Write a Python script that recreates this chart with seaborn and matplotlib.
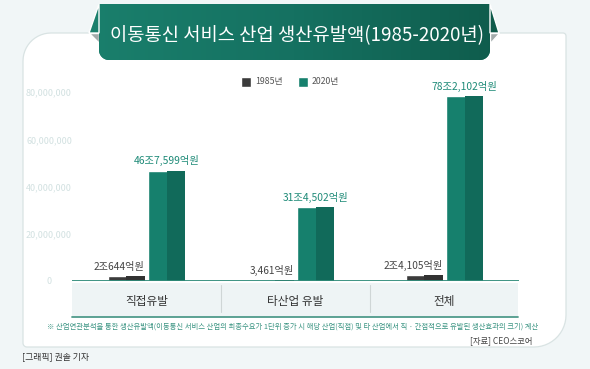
import numpy as np
import pandas as pd
import matplotlib
matplotlib.use('Agg')
import matplotlib.pyplot as plt
from matplotlib.patches import Polygon, Rectangle
from matplotlib.colors import LinearSegmentedColormap
import seaborn as sns

# --- data (unit: 백만원) ---
categories = ['직접유발', '타산업 유발', '전체']
years = ['1985년', '2020년']
values_1985 = [2064400, 346100, 2410500]
values_2020 = [46759900, 31450200, 78210200]
labels_1985 = ['2조644억원', '3,461억원', '2조4,105억원']
labels_2020 = ['46조7,599억원', '31조4,502억원', '78조2,102억원']
yticks = [0, 20000000, 40000000, 60000000, 80000000]
ytick_labels = ['0', '20,000,000', '40,000,000', '60,000,000', '80,000,000']

title = '이동통신 서비스 산업 생산유발액(1985-2020년)'
footnote = ('※ 산업연관분석을 통한 생산유발액(이동통신 서비스 산업의 최종수요가 1단위 증가 시 '
            '해당 산업(직접) 및 타 산업에서 직 · 간접적으로 유발된 생산효과의 크기) 계산')
source = '[자료] CEO스코어'
credit = '[그래픽] 권솔 기자'

df = pd.DataFrame({
    'category': categories * 2,
    'year': [years[0]] * 3 + [years[1]] * 3,
    'value': values_1985 + values_2020,
})

palette = {'1985년': '#3b3b3b', '2020년': '#16806d'}
dark_half = {'1985년': '#323232', '2020년': '#116a5a'}

sns.set_style('white')
plt.rcParams['font.family'] = ['Noto Sans CJK KR', 'DejaVu Sans']

W, H = 590, 369
fig = plt.figure(figsize=(W / 100, H / 100), dpi=100)
fig.patch.set_facecolor('#f1f6f7')

# background layer in pixel coordinates (y down)
bg = fig.add_axes([0, 0, 1, 1], zorder=0)
bg.set_axis_off()


def rounded_rect(x0, y0, x1, y1, r):
    tl, tr, br, bl = r
    pts = []

    def arc(cx, cy, rad, a0, a1):
        t = np.linspace(a0, a1, 14)
        return [(cx + rad * np.cos(a), cy + rad * np.sin(a)) for a in t]
    pts += arc(x0 + tl, y0 + tl, tl, np.pi, 1.5 * np.pi)
    pts += arc(x1 - tr, y0 + tr, tr, 1.5 * np.pi, 2 * np.pi)
    pts += arc(x1 - br, y1 - br, br, 0, 0.5 * np.pi)
    pts += arc(x0 + bl, y1 - bl, bl, 0.5 * np.pi, np.pi)
    return pts


# white card
bg.add_patch(Polygon(rounded_rect(23, 33, 566, 347, (28, 3, 32, 4)),
                     closed=True, facecolor='white', edgecolor='#d9e3e3', lw=0.9, zorder=1))

# title banner
banner = Polygon(rounded_rect(99, 4, 490, 60, (0.01, 0.01, 10, 10)), closed=True,
                 facecolor='#167362', edgecolor='none', zorder=2)
bg.add_patch(banner)
cmap = LinearSegmentedColormap.from_list('banner', ['#1a7f6c', '#157161', '#0f5c4c'])
img = bg.imshow(np.linspace(0, 1, 256).reshape(1, -1), extent=(89, 499, 60, 3),
                cmap=cmap, aspect='auto', zorder=3)
img.set_clip_path(banner)
bg.add_patch(Polygon([(99, 4), (89, 33), (99, 33)], facecolor='#1b806d', zorder=3))
bg.add_patch(Polygon([(490, 4), (499, 33), (490, 33)], facecolor='#0f5a4a', zorder=3))
bg.add_patch(Polygon([(89, 33), (99, 33), (99, 43)], facecolor='#a3abab', zorder=2))
bg.add_patch(Polygon([(499, 33), (490, 33), (490, 43)], facecolor='#a3abab', zorder=2))
bg.text(297, 36, title, color='white', fontsize=13.5, fontweight='medium',
        ha='center', va='center', zorder=5)

# category band under the axis
bg.add_patch(Rectangle((72, 283), 446, 34, facecolor='#eef4f5', edgecolor='none', zorder=2))
bg.plot([72, 518], [317, 317], color='#4f9b8b', lw=1.3, zorder=3)
for xd in [221, 370]:
    bg.plot([xd, xd], [285, 312], color='#cfd6d6', lw=0.8, zorder=3)

bg.text(538, 327, footnote, color='#3a9482', fontsize=5.3, ha='right', va='center', zorder=5)
bg.text(532, 341, source, color='#444444', fontsize=6, ha='right', va='center', zorder=5)
bg.text(22, 357, credit, color='#333333', fontsize=6.4, ha='left', va='center', zorder=5)

bg.set_xlim(0, W)
bg.set_ylim(H, 0)

# --- main chart ---
ymax = 86000000
ax = fig.add_axes([72 / W, (H - 281) / H, 447 / W, 203 / H], zorder=2)
ax.patch.set_alpha(0)
sns.barplot(data=df, x='category', y='value', hue='year', order=categories,
            hue_order=years, palette=palette, width=0.544, gap=0.088,
            saturation=1, ax=ax)

for year, cont in zip(years, ax.containers):
    for bar in cont:
        w = bar.get_width()
        ax.add_patch(Rectangle((bar.get_x() + w / 2, 0), w / 2, bar.get_height(),
                               facecolor=dark_half[year], edgecolor='none', zorder=bar.get_zorder()))

for bar, lab in zip(ax.containers[0], labels_1985):
    ax.annotate(lab, (bar.get_x() + bar.get_width(), bar.get_height()),
                xytext=(0, 3), textcoords='offset points', ha='right', va='bottom',
                fontsize=7.3, color='#444444')
for bar, lab in zip(ax.containers[1], labels_2020):
    ax.annotate(lab, (bar.get_x() + bar.get_width() / 2, bar.get_height()),
                xytext=(0, 3), textcoords='offset points', ha='center', va='bottom',
                fontsize=7.4, color='#1d8a77')

ax.axhline(0, color='#2f8b79', lw=1.3, zorder=5)
ax.set_xlim(-0.5, 2.5)
ax.set_ylim(0, ymax)
ax.set_yticks(yticks)
ax.set_yticklabels(ytick_labels)
ax.tick_params(axis='y', length=0, pad=16.6, labelsize=6.5, labelcolor='#d2e1e1')
for t in ax.get_yticklabels():
    t.set_ha('center')
ax.tick_params(axis='x', length=0, pad=14.4, labelsize=8.4, labelcolor='#333333')
for t in ax.get_xticklabels():
    t.set_va('center')
    t.set_fontweight('medium')
ax.set_xlabel('')
ax.set_ylabel('')
sns.despine(ax=ax, left=True, bottom=True)

sns.move_legend(ax, 'center', bbox_to_anchor=(290 / W, 1 - 81 / H),
                bbox_transform=fig.transFigure, ncol=2, frameon=False, title=None,
                fontsize=6.3, handlelength=1.15, handleheight=1.15,
                handletextpad=0.4, columnspacing=1.8)
leg = ax.get_legend()
for t in leg.get_texts():
    t.set_color('#555555')
for h in leg.legend_handles:
    h.set_height(h.get_width())
    h.set_y(h.get_y() - 1.5)

fig.savefig('out.png', dpi=100, facecolor=fig.get_facecolor())
